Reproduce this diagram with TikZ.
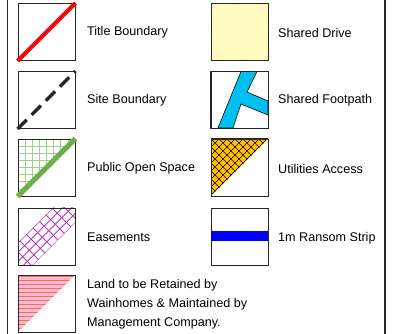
\documentclass[tikz,border=0pt]{standalone}
\usepackage{fontspec}
\setmainfont{Liberation Sans}
\definecolor{posgreen}{HTML}{6DB04A}
\definecolor{posgrid}{HTML}{9ED08A}
\definecolor{footblue}{HTML}{00BFF3}
\definecolor{utilorange}{HTML}{FFC000}
\definecolor{easemag}{HTML}{B23AB8}
\definecolor{landpink}{HTML}{FBB6E6}
\definecolor{landorange}{HTML}{EE7A22}
\definecolor{drivefill}{HTML}{FFFFE2}
\definecolor{driveline}{HTML}{FFF27A}
\begin{document}
\begin{tikzpicture}[x=1pt,y=-1pt,
  swatch/.style={draw=black!85, line width=0.9pt, minimum width=57pt, minimum height=57pt, inner sep=0pt},
  lbl/.style={anchor=base west, inner sep=0pt, font=\fontsize{12.6}{19}\selectfont},
  frame/.style={draw=black!85, line width=1.1pt}]
\useasboundingbox (0,0) rectangle (400,334);
% outer frame
\draw[frame] (7.5,0) -- (7.5,334);
\draw[frame] (385,0) -- (385,334);

% ---------- contents ----------
% Shared Drive hatching
\begin{scope}
  \clip (211,3.5) rectangle (268,60.5);
  \fill[drivefill] (211,3.5) rectangle (268,60.5);
  \foreach \c in {-70,-67,...,70}{
    \draw[driveline, line width=0.6pt] (211+\c,60.5) -- (268+\c,3.5);
  }
\end{scope}

% Public Open Space grid
\begin{scope}
  \clip (18,139) -- (75,139) -- (18,196) -- cycle;
  \foreach \i in {0,...,8}{
    \draw[posgrid, line width=0.7pt] (18+\i*7.125,139) -- (18+\i*7.125,196);
    \draw[posgrid, line width=0.7pt] (18,139+\i*7.125) -- (75,139+\i*7.125);
  }
\end{scope}

% Easements
\begin{scope}
  \clip (18,208) rectangle (75,265);
  \clip (0,261) -- (261,0) -- (298,0) -- (0,298) -- cycle;
  \foreach \k in {0,...,4}{
    \pgfmathsetmacro{\s}{261+\k*9.25}
    \draw[easemag, line width=0.8pt] (0,\s) -- (\s,0);
  }
  \foreach \c in {-260,-247,...,-120}{
    \draw[easemag, line width=0.8pt] (0,-\c) -- (300,300-\c);
  }
\end{scope}

% Utilities Access
\fill[utilorange] (211,139) -- (268,139) -- (211,196) -- cycle;
\begin{scope}
  \clip (211,139) -- (268,139) -- (211,196) -- cycle;
  \foreach \c in {0,8,...,120}{
    \draw[black, line width=0.5pt] (211,139+\c) -- (211+\c,139);
  }
  \foreach \c in {-64,-56,...,64}{
    \draw[black, line width=0.5pt] (211+\c,139) -- (268+\c,196);
  }
\end{scope}
\draw[black!70!brown, line width=1pt] (211,139) -- (268,139);

% Land to be retained
\fill[landpink] (18,275) -- (75,275) -- (18,332) -- cycle;
\begin{scope}
  \clip (18,275) -- (75,275) -- (18,332) -- cycle;
  \foreach \i in {0,...,14}{
    \draw[landorange, line width=1.5pt] (18,276.5+\i*4) -- (75,276.5+\i*4);
  }
\end{scope}

% ---------- swatches ----------
\node[swatch] (tb) at (46.5,32) {};
\node[swatch] (sb) at (46.5,100) {};
\node[swatch] (pos) at (46.5,167.5) {};
\node[swatch] (ea) at (46.5,236.5) {};
\node[swatch] (land) at (46.5,303.5) {};
\node[swatch] (sd) at (239.5,32) {};
\node[swatch] (fp) at (239.5,100) {};
\node[swatch] (ua) at (239.5,167.5) {};
\node[swatch] (rs) at (239.5,236.5) {};

% line symbols drawn over the boxes
\draw[red, line width=4pt] (tb.south west) -- (tb.north east);
\draw[black!85, line width=3.2pt, dash pattern=on 13pt off 7pt] (sb.south west) -- (sb.north east);
\draw[posgreen, line width=5pt] (pos.south west) -- (pos.north east);
\fill[footblue, draw=black, line width=0.6pt]
  (218,128) -- (241,71.5) -- (257,71.5) -- (247,92) -- (268,101)
  -- (268,115) -- (241,104) -- (233,128) -- cycle;
\draw[black!85, line width=0.9pt] (fp.south west) rectangle (fp.north east);
\fill[blue] (rs.west |- 0,231) rectangle (rs.east |- 0,241);

% ---------- labels ----------
\node[lbl] (tbl) at (87,36) {Title Boundary};
\node[lbl] (sbl) at (87,104) {Site Boundary};
\node[lbl] (posl) at (87,172) {Public Open Space};
\node[lbl] (eal) at (87,242) {Easements};
\node[anchor=north west, inner sep=0pt, align=left, font=\fontsize{12.6}{19}\selectfont] (landl) at (87,279)
  {Land to be Retained by\\Wainhomes \& Maintained by\\Management Company.};
\node[lbl] (sdl) at (278,38) {Shared Drive};
\node[lbl] (fpl) at (278,104) {Shared Footpath};
\node[lbl] (ual) at (278,174) {Utilities Access};
\node[lbl] (rsl) at (278,242) {1m Ransom Strip};
\end{tikzpicture}
\end{document}
